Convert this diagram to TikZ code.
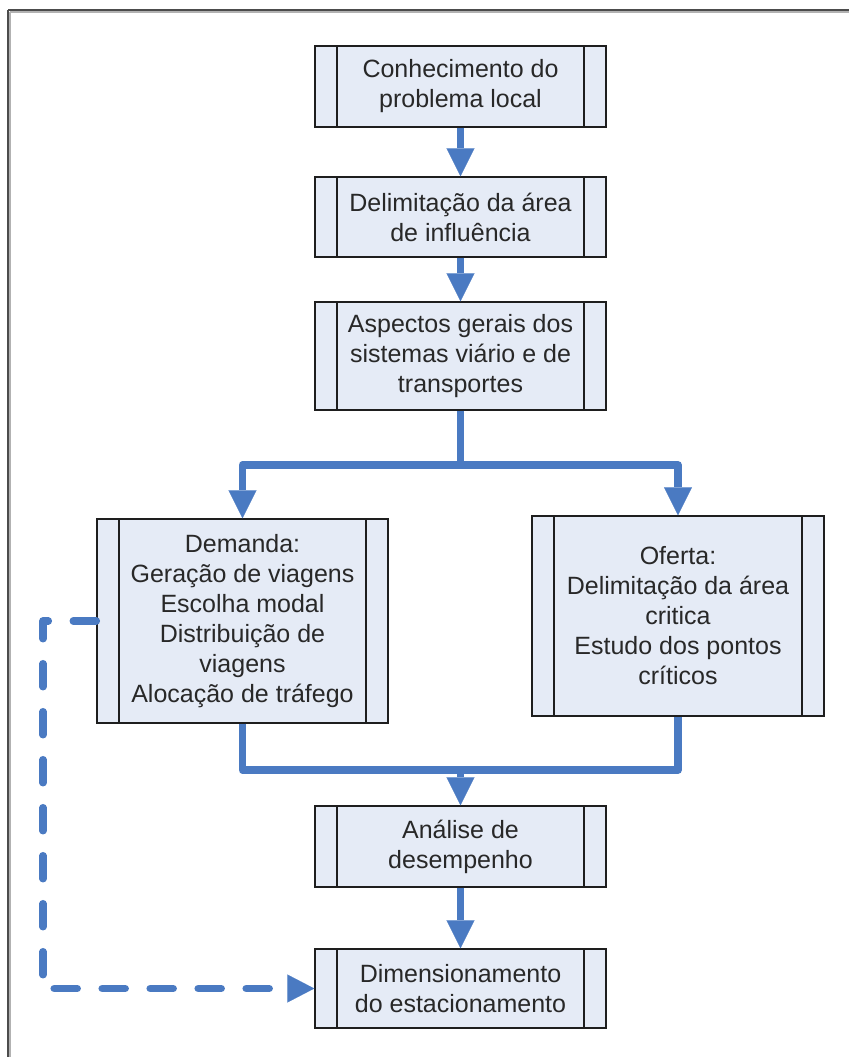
\documentclass[tikz,border=0pt]{standalone}
\usepackage{fontspec}
\setmainfont{Liberation Sans}
\usetikzlibrary{arrows.meta}

\definecolor{flowblue}{HTML}{4A7AC2}
\definecolor{boxfill}{HTML}{E5EBF6}
\definecolor{boxline}{HTML}{1E1E1E}
\definecolor{textgray}{HTML}{282828}

\tikzset{
  procbox/.style={
    rectangle, draw=boxline, line width=1.4pt, fill=boxfill,
    minimum width=291pt, inner sep=0pt, align=center,
    text=textgray, font=\fontsize{25}{30}\selectfont,
    path picture={
      \draw[boxline, line width=1.4pt]
        ([xshift=22pt]path picture bounding box.north west) --
        ([xshift=22pt]path picture bounding box.south west)
        ([xshift=-22pt]path picture bounding box.north east) --
        ([xshift=-22pt]path picture bounding box.south east);
    }
  },
  flowline/.style={draw=flowblue, line width=7.5pt, line join=round},
  flowarrow/.style={flowline,
    -{Triangle[length=28pt, width=28pt, line width=0.1pt]}},
  backarrow/.style={flowline, line cap=round, dash pattern=on 23pt off 25pt,
    -{Triangle[length=27pt, width=28pt, line width=0.1pt]}},
  framerule/.style={line width=2pt, draw=black!70},
  frameshade/.style={line width=1.6pt, draw=black!30}
}

\begin{document}
\begin{tikzpicture}[x=1pt, y=-1pt]
  \useasboundingbox (0,0) rectangle (849,1057);

  % page frame (top and left edges)
  \draw[frameshade] (10,12.2) -- (849,12.2);
  \draw[frameshade] (10.2,12) -- (10.2,1057);
  \draw[framerule] (8,10) -- (849,10);
  \draw[framerule] (8,10) -- (8,1057);

  % process boxes
  \node[procbox, minimum height=81pt] (b1) at (460.5,86.5)
    {Conhecimento do\\problema local};
  \node[procbox, minimum height=80pt] (b2) at (460.5,217)
    {Delimitação da área\\de influência};
  \node[procbox, minimum height=108pt] (b3) at (460.5,356)
    {Aspectos gerais dos\\sistemas viário e de\\transportes};
  \node[procbox, minimum height=204pt] (dem) at (242.5,621)
    {Demanda:\\Geração de viagens\\Escolha modal\\Distribuição de\\viagens\\Alocação de tráfego};
  \node[procbox, minimum height=200pt, minimum width=292pt] (ofe) at (678,616)
    {Oferta:\\Delimitação da área\\critica\\Estudo dos pontos\\críticos};
  \node[procbox, minimum height=81pt] (ana) at (460.5,846.5)
    {Análise de\\desempenho};
  \node[procbox, minimum height=79pt] (dim) at (460.5,988.5)
    {Dimensionamento\\do estacionamento};

  % junction points
  \coordinate (split) at (460.5,465);
  \coordinate (merge) at (460.5,770);
  \coordinate (fbk) at (43,988.5);

  % main flow
  \draw[flowarrow] (b1.south) -- (b2.north);
  \draw[flowarrow] (b2.south) -- (b3.north);
  \draw[flowline] (b3.south) -- (split);
  \draw[flowarrow] (split) -| (dem.north);
  \draw[flowarrow] (split) -| (ofe.north);
  \draw[flowline] (dem.south) |- (merge) -| (ofe.south);
  \draw[flowarrow] (merge) -- (ana.north);
  \draw[flowarrow] (ana.south) -- (dim.north);

  % feedback from demand to parking sizing
  \draw[backarrow] (dem.west) -| (fbk) -- (dim.west);
\end{tikzpicture}
\end{document}
